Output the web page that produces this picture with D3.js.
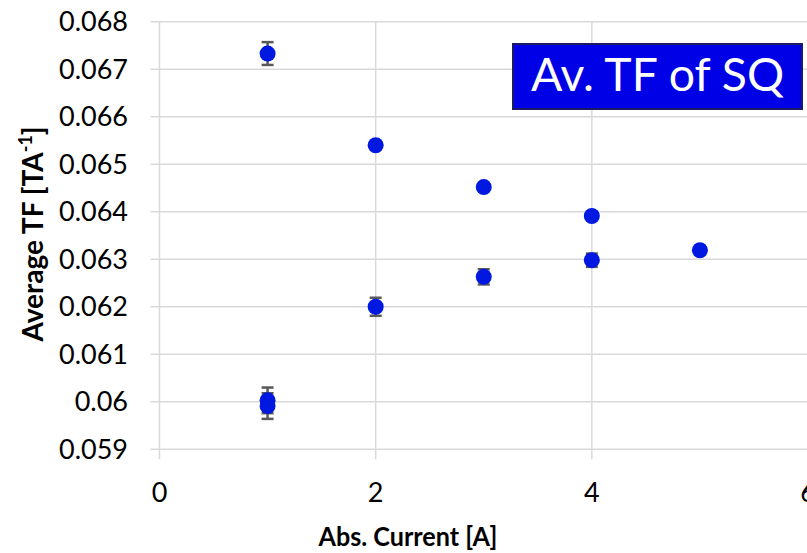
<!DOCTYPE html>
<html>
<head>
<meta charset="utf-8">
<script src="https://cdn.jsdelivr.net/npm/d3@7/dist/d3.min.js"></script>
<style>
  body { margin: 0; background: #fff; }
  svg { display: block; font-family: Lato, "Open Sans", sans-serif; }
</style>
</head>
<body>
<div id="chart"></div>
<script>
// measured points: abs. current [A], average TF [T/A], error bar half-width
var currents = [1, 1, 1, 2, 2, 3, 3, 4, 4, 5];
var avgTF    = [0.06733, 0.06003, 0.05991, 0.06540, 0.06200, 0.06452, 0.06263, 0.06391, 0.06298, 0.06319];
var tfErr    = [0.00024, 0.00027, 0.00027, 0.00003, 0.00019, 0.00003, 0.00016, 0.00003, 0.00014, 0.00003];

var xTicks = [0, 2, 4, 6];
var yTicks = [0.059, 0.060, 0.061, 0.062, 0.063, 0.064, 0.065, 0.066, 0.067, 0.068];
var yTickLabels = ["0.059", "0.06", "0.061", "0.062", "0.063", "0.064", "0.065", "0.066", "0.067", "0.068"];

var width = 807,
	height = 553,
	plot = {left: 159.5, right: 808, top: 21.7, bottom: 449.3};

var x = d3.scaleLinear().domain([0, 6]).range([plot.left, plot.right]),
	y = d3.scaleLinear().domain([0.059, 0.068]).range([plot.bottom, plot.top]);

var svg = d3.select("#chart").append("svg")
	.attr("width", width)
	.attr("height", height);

var points = currents.map(function(c, i){ return {x: c, y: avgTF[i], e: tfErr[i]} });

// grid + tick marks (Excel-style, gridlines poke past the axes)
svg.append("g").selectAll("line").data(yTicks).enter().append("line")
	.attr("x1", plot.left - 9).attr("x2", plot.right)
	.attr("y1", function(d){ return y(d) }).attr("y2", function(d){ return y(d) })
	.attr("stroke", "#d9d9d9").attr("stroke-width", 1.5);

svg.append("g").selectAll("line").data(xTicks).enter().append("line")
	.attr("x1", function(d){ return x(d) }).attr("x2", function(d){ return x(d) })
	.attr("y1", plot.top).attr("y2", plot.bottom + 10)
	.attr("stroke", "#d9d9d9").attr("stroke-width", 1.5);

// tick labels
svg.append("g").selectAll("text").data(yTicks).enter().append("text")
	.attr("x", 128).attr("y", function(d){ return y(d) })
	.attr("dy", "0.35em")
	.attr("text-anchor", "end")
	.attr("font-size", "27px")
	.attr("fill", "#000")
	.text(function(d, i){ return yTickLabels[i] });

svg.append("g").selectAll("text").data(xTicks).enter().append("text")
	.attr("x", function(d){ return x(d) }).attr("y", 502)
	.attr("text-anchor", "middle")
	.attr("font-size", "27px")
	.attr("fill", "#000")
	.text(function(d){ return d });

// axis titles
svg.append("text")
	.attr("x", 408).attr("y", 546)
	.attr("text-anchor", "middle")
	.attr("font-size", "26px").attr("font-weight", "bold")
	.attr("textLength", 179).attr("lengthAdjust", "spacingAndGlyphs")
	.text("Abs. Current [A]");

var yt = svg.append("text")
	.attr("transform", "translate(43,234) rotate(-90)")
	.attr("text-anchor", "middle")
	.attr("font-size", "28px").attr("font-weight", "bold");
yt.append("tspan").text("Average TF [TA");
yt.append("tspan").attr("font-size", "18px").attr("dy", "-11").text("-1");
yt.append("tspan").attr("dy", "11").text("]");

// error bars
var eb = svg.append("g").selectAll("g").data(points).enter().append("g")
	.attr("stroke", "#595959").attr("stroke-width", 2.5);
eb.append("line")
	.attr("x1", function(d){ return x(d.x) }).attr("x2", function(d){ return x(d.x) })
	.attr("y1", function(d){ return y(d.y - d.e) }).attr("y2", function(d){ return y(d.y + d.e) });
eb.selectAll(".cap").data(function(d){ return [[d.x, d.y - d.e], [d.x, d.y + d.e]] })
	.enter().append("line")
	.attr("x1", function(d){ return x(d[0]) - 6 }).attr("x2", function(d){ return x(d[0]) + 6 })
	.attr("y1", function(d){ return y(d[1]) }).attr("y2", function(d){ return y(d[1]) });

// markers
svg.append("g").selectAll("circle").data(points).enter().append("circle")
	.attr("cx", function(d){ return x(d.x) })
	.attr("cy", function(d){ return y(d.y) })
	.attr("r", 8)
	.attr("fill", "#0018e0");

// label box
var box = svg.append("g").attr("transform", "translate(513,44)");
box.append("rect")
	.attr("width", 289).attr("height", 65)
	.attr("fill", "#0000e6")
	.attr("stroke", "#1a1a66").attr("stroke-width", 2);
box.append("text")
	.attr("x", 144.5).attr("y", 47)
	.attr("text-anchor", "middle")
	.attr("font-size", "46px")
	.attr("fill", "#fff")
	.attr("textLength", 253).attr("lengthAdjust", "spacingAndGlyphs")
	.text("Av. TF of SQ");
</script>
</body>
</html>
